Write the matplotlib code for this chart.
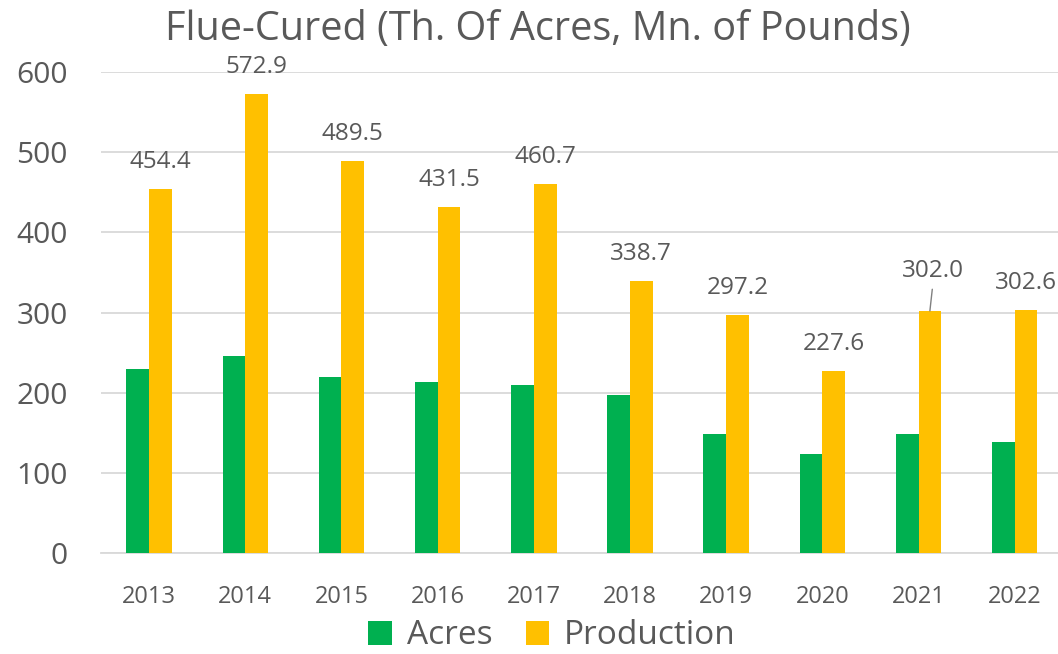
import matplotlib
matplotlib.use('Agg')
import numpy as np
from matplotlib import pyplot as plt

# data
years = ['2013', '2014', '2015', '2016', '2017', '2018', '2019', '2020', '2021', '2022']
acres = [229, 246, 220, 213, 210, 197, 149, 124, 148, 139]
production = [454.4, 572.9, 489.5, 431.5, 460.7, 338.7, 297.2, 227.6, 302.0, 302.6]

green = '#00B050'
yellow = '#FFC000'
txt = '#595959'

plt.rcParams['font.family'] = ['Open Sans', 'DejaVu Sans']

fig = plt.figure(figsize=(10.58, 6.54), dpi=100)
ax = fig.add_axes([101/1058, 1 - 553/654, (1058-101)/1058, (553-72)/654])

x = np.arange(len(years))
w = 0.236
ax.bar(x - w/2, acres, w, color=green, label='Acres', zorder=3)
ax.bar(x + w/2, production, w, color=yellow, label='Production', zorder=3)

for i, v in enumerate(production):
    if years[i] == '2021':
        ax.annotate(f'{v:.1f}', xy=(x[i] + w/2, v), xytext=(3, 40),
                    textcoords='offset pixels', ha='center', va='center',
                    fontsize=17.5, color=txt)
        ax.annotate('', xy=(x[i] + w/2, v), xytext=(x[i] + w/2 + 0.025, v + 27),
                    arrowprops=dict(arrowstyle='-', color='#808080', lw=1,
                                    shrinkA=0, shrinkB=0))
    else:
        ax.annotate(f'{v:.1f}', xy=(x[i] + w/2, v), xytext=(0, 27),
                    textcoords='offset pixels', ha='center', va='center',
                    fontsize=17.5, color=txt)

ax.set_ylim(0, 600)
ax.set_xlim(-0.5, 9.45)
ax.set_yticks(range(0, 601, 100))
ax.set_xticks(x)
ax.set_xticklabels(years)
ax.tick_params(axis='y', labelsize=21.5, colors=txt, length=0, pad=24)
ax.tick_params(axis='x', labelsize=17, colors=txt, length=0, pad=23)
ax.grid(axis='y', color='#D9D9D9', lw=1.3, zorder=0)
for s in ['top', 'right', 'left']:
    ax.spines[s].set_visible(False)
ax.spines['bottom'].set_color('#D9D9D9')
ax.spines['bottom'].set_linewidth(1.3)

fig.text(538/1058, 1 - 30/654, 'Flue-Cured (Th. Of Acres, Mn. of Pounds)', fontsize=28.5,
         color=txt, ha='center', va='center')

fig.legend(loc='center', bbox_to_anchor=(552/1058, 1 - 636/654), ncol=2, frameon=False,
           fontsize=24, labelcolor=txt, handlelength=0.7, handleheight=0.7,
           handletextpad=0.45, columnspacing=1.0)

plt.savefig('out.png', dpi=100)
